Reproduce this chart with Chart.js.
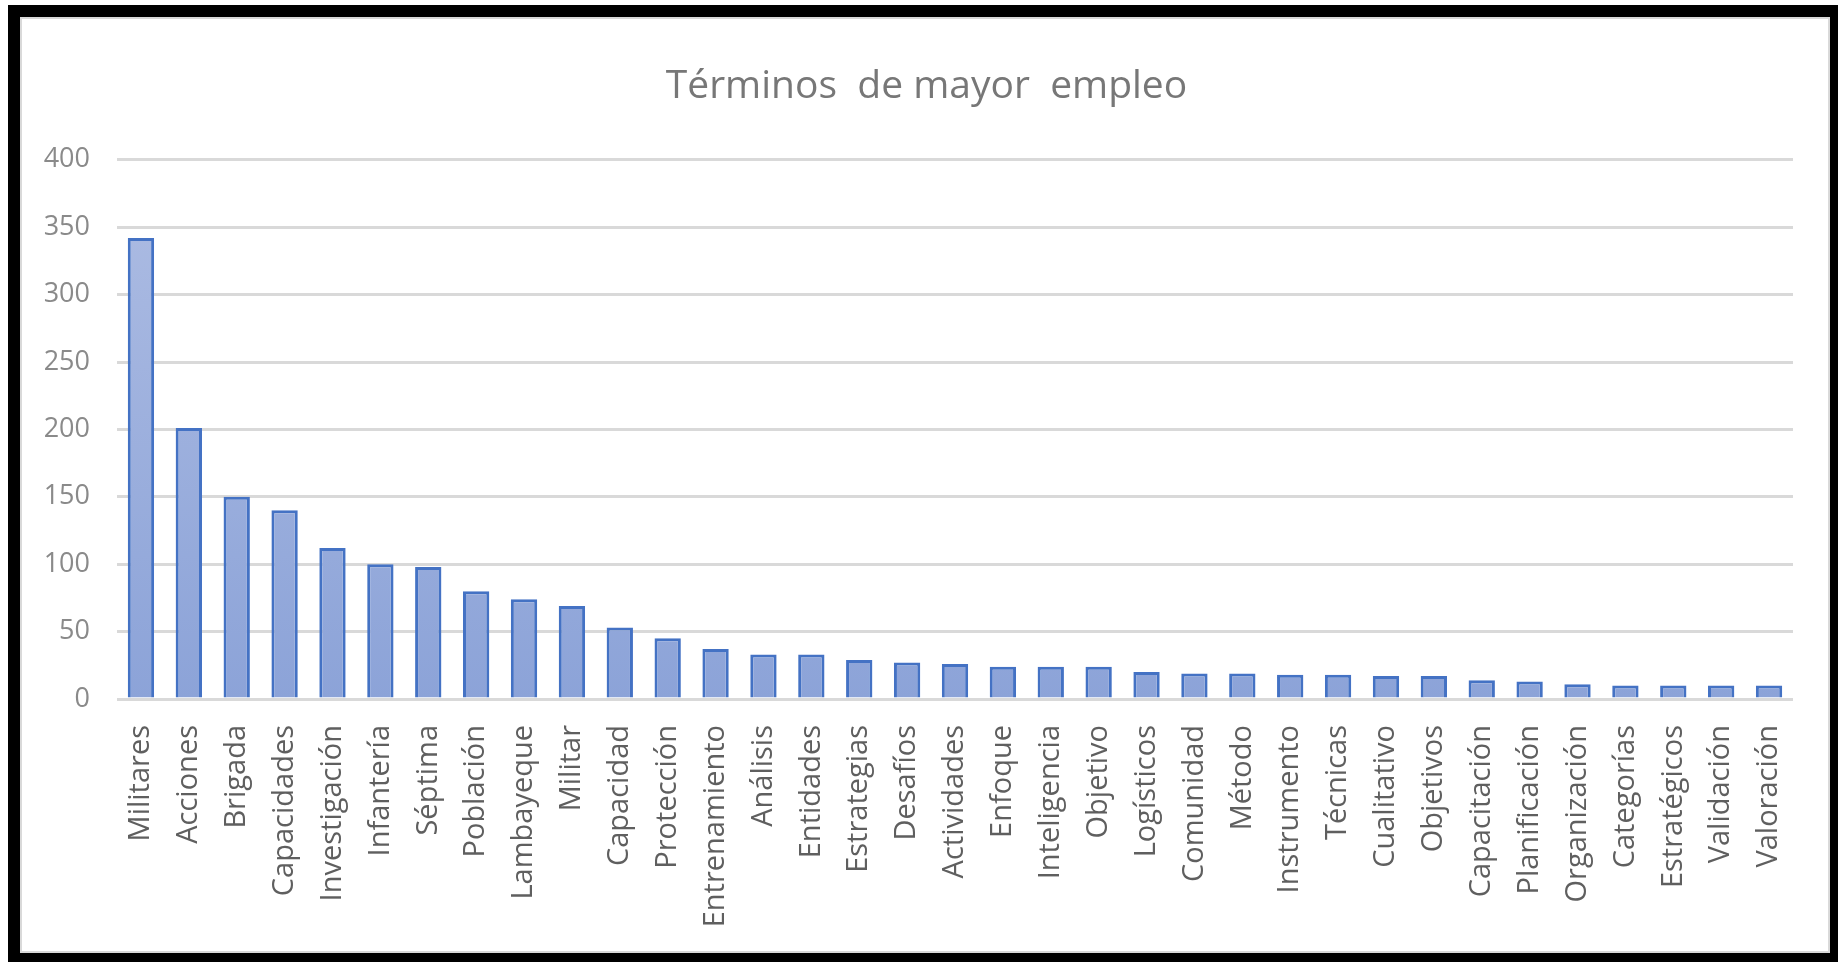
<!DOCTYPE html>
<html>
<head>
<meta charset="utf-8">
<script src="https://cdn.jsdelivr.net/npm/chart.js@4"></script>
<style>
    body { margin: 0; background: #fff; }
    #frame { position: absolute; left: 8px; top: 5px; width: 1830px; height: 957px; background: #000; }
    #inner { position: absolute; left: 12px; top: 12px; width: 1810px; height: 936px; background: #fff; border: 2px solid #d9d9d9; box-sizing: border-box; }
    #wrap { position: absolute; left: 0; top: 0; width: 1838px; height: 962px; }
</style>
</head>
<body>
<div id="frame"><div id="inner"></div></div>
<div id="wrap"><canvas id="chartTerms"></canvas></div>
<script>
    // terms and how often they appear
    const terms = ['Militares', 'Acciones', 'Brigada', 'Capacidades', 'Investigación', 'Infantería', 'Séptima',
        'Población', 'Lambayeque', 'Militar', 'Capacidad', 'Protección', 'Entrenamiento', 'Análisis', 'Entidades',
        'Estrategias', 'Desafíos', 'Actividades', 'Enfoque', 'Inteligencia', 'Objetivo', 'Logísticos', 'Comunidad',
        'Método', 'Instrumento', 'Técnicas', 'Cualitativo', 'Objetivos', 'Capacitación', 'Planificación',
        'Organización', 'Categorías', 'Estratégicos', 'Validación', 'Valoración'];
    const counts = [342, 201, 150, 140, 112, 100, 98, 80, 74, 69, 53, 45, 37, 33, 33, 29, 27, 26, 24, 24, 24, 20,
        19, 19, 18, 18, 17, 17, 14, 13, 11, 10, 10, 10, 10];
    const yTicks = [0, 50, 100, 150, 200, 250, 300, 350, 400];
    const chartTitle = 'Términos  de mayor  empleo';

    function barFill(ctx) {
        const area = ctx.chart.chartArea;
        if (!area) return '#9db0dd';
        const g = ctx.chart.ctx.createLinearGradient(0, area.top, 0, area.bottom);
        g.addColorStop(0, '#aebde3');
        g.addColorStop(1, '#8ca3d8');
        return g;
    }

    // the title sits centred on the whole frame, not on the padded box
    const titleShift = {
        id: 'titleShift',
        afterLayout: function (chart) {
            chart.titleBlock.left += 30;
            chart.titleBlock.right += 30;
        }
    };

    new Chart(document.getElementById('chartTerms'), {
        type: 'bar',
        data: {
            labels: terms,
            datasets: [{
                data: counts,
                backgroundColor: barFill,
                borderColor: '#4472c4',
                borderWidth: 3,
                borderSkipped: 'bottom',
                barPercentage: 1,
                categoryPercentage: 0.55
            }]
        },
        plugins: [titleShift],
        options: {
            responsive: true,
            maintainAspectRatio: false,
            animation: false,
            layout: { padding: { top: 43, right: 45, bottom: 0, left: 0 } },
            plugins: {
                legend: { display: false },
                tooltip: { enabled: false },
                title: {
                    display: true,
                    text: chartTitle,
                    color: '#777777',
                    font: { family: 'Open Sans', size: 39, weight: 'normal' },
                    padding: { top: 20, bottom: 50 }
                }
            },
            scales: {
                x: {
                    grid: { display: false },
                    border: { display: false },
                    ticks: {
                        color: '#5f5f5f',
                        font: { family: 'Open Sans', size: 29 },
                        minRotation: 90,
                        maxRotation: 90,
                        autoSkip: false,
                        padding: 18
                    },
                    afterFit: function (scale) { scale.height = 263; }
                },
                y: {
                    min: 0,
                    max: 400,
                    afterBuildTicks: function (scale) { scale.ticks = yTicks.map(v => ({ value: v })); },
                    grid: { color: '#d9d9d9', lineWidth: 3, drawTicks: false },
                    border: { display: false },
                    ticks: {
                        color: '#8a8a8a',
                        font: { family: 'Open Sans', size: 27 },
                        padding: 27
                    },
                    afterFit: function (scale) { scale.width = 117; }
                }
            }
        }
    });
</script>
</body>
</html>
